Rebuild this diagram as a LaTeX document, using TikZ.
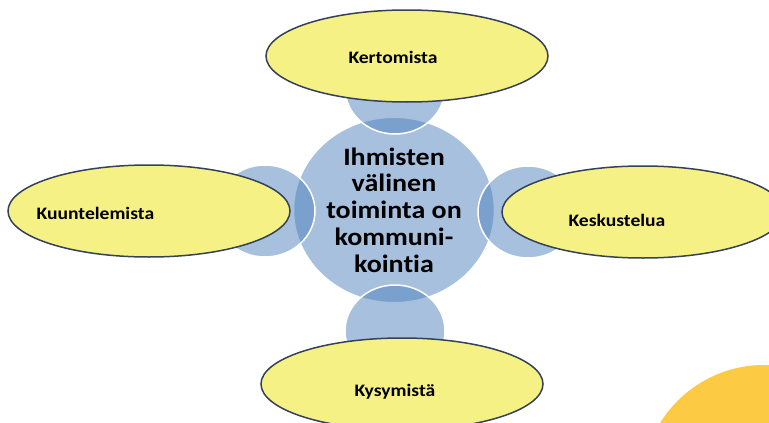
\documentclass[tikz,border=0pt]{standalone}
\usepackage{fontspec}
\setmainfont{Carlito}[FakeStretch=1.12, Ligatures=NoCommon]
\usetikzlibrary{shapes.geometric}
\definecolor{bubbleblue}{RGB}{79,129,189}
\definecolor{ovalfill}{RGB}{246,241,132}
\definecolor{ovaledge}{RGB}{52,66,88}
\definecolor{sunny}{RGB}{253,202,68}
\tikzset{
	bubble/.style={ellipse, fill=bubbleblue, fill opacity=0.5, text opacity=1, draw=white, line width=1.5pt}, % the see-through blue circles
	small bubble/.style={bubble, minimum width=100, minimum height=92},
	oval/.style={ellipse, fill=ovalfill, draw=ovaledge, line width=1.5pt, minimum width=282, minimum height=92}, % the yellow ovals
	word/.style={font=\bfseries\fontsize{17.5}{20}\selectfont}, % text in the ovals
}

\begin{document}
\begin{tikzpicture}[x=1pt,y=-1pt]
		\useasboundingbox (0,0) rectangle (769,423);
		\clip (0,0) rectangle (769,423);
		\fill[sunny] (764,487) circle (122);
		
		% centre and the four small circles
		\node[bubble, minimum width=194, minimum height=174, align=center,
		      font=\bfseries\fontsize{25}{26.7}\selectfont] (core) at (394,210)
		      {Ihmisten\\välinen\\toiminta on\\kommuni-\\kointia};
		\node[small bubble] (up) at (395,88) {};
		\node[small bubble] (down) at (395,331) {};
		\node[small bubble] (left) at (265,211) {};
		\node[small bubble] (right) at (528,212) {};
		
		% the yellow ovals
		\node[oval] (kert) at (407,56) {};
		\node[oval] (kuun) at (149,211) {};
		\node[oval] (kesk) at (643,212) {};
		\node[oval] (kysy) at (402,384) {};
		\node[word] at (393,57) {Kertomista};
		\node[word,anchor=west] at (33,213) {Kuuntelemista};
		\node[word] at (617,220) {Keskustelua};
		\node[word] at (395,392) {Kysymistä};
	\end{tikzpicture}
\end{document}
